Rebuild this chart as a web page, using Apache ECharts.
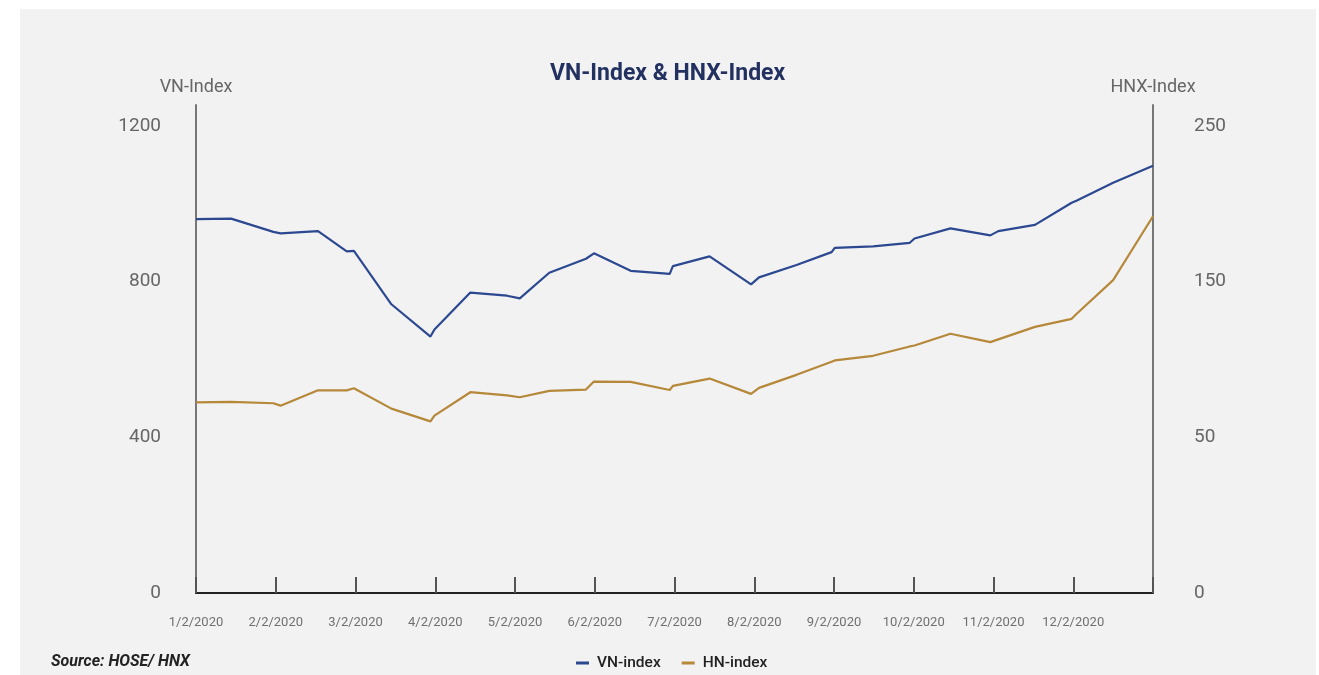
<!DOCTYPE html>
<html>
<head>
<meta charset="utf-8">
<script src="https://cdn.jsdelivr.net/npm/echarts@6/dist/echarts.min.js"></script>
<style>
  html, body { margin: 0; padding: 0; background: #ffffff; }
  #panel { position: absolute; left: 20px; top: 9px; width: 1296px; height: 666px; background: #f2f2f2; }
  #chart { position: absolute; left: 0; top: 0; width: 1319px; height: 675px; }
</style>
</head>
<body>
<div id="panel"></div>
<div id="chart"></div>
<script>
// Month positions (0 = 1/2/2020, 1 = 2/2/2020, ...)
const xPos = [0, 0.44, 0.97, 1.06, 1.53, 1.89, 1.98, 2.45, 2.94, 2.99, 3.44, 3.90, 4.06, 4.43, 4.89, 4.99, 5.45, 5.94, 5.98, 6.44, 6.96, 7.06, 7.53, 7.97, 8.01, 8.49, 8.95, 9.01, 9.46, 9.96, 10.06, 10.52, 10.98, 11.04, 11.50, 12.0];
const vnIndex = [961, 962, 928, 924, 930, 878, 879, 742, 659, 677, 772, 764, 757, 823, 859, 873, 828, 820, 840, 865, 793, 811, 843, 876, 887, 891, 900, 911, 937, 919, 930, 946, 1003, 1008, 1054, 1098];
const hnxIndex = [102.1, 102.3, 101.6, 100.3, 108.5, 108.5, 109.6, 98.7, 91.9, 95.0, 107.5, 105.8, 104.8, 108.2, 108.9, 113.2, 113.0, 108.7, 110.9, 114.8, 106.6, 109.8, 116.8, 123.8, 124.5, 127.0, 132.0, 132.5, 138.8, 134.3, 135.8, 142.5, 146.8, 149.4, 167.5, 201.7];
const xTickLabels = ['1/2/2020', '2/2/2020', '3/2/2020', '4/2/2020', '5/2/2020', '6/2/2020', '7/2/2020', '8/2/2020', '9/2/2020', '10/2/2020', '11/2/2020', '12/2/2020', ''];
const leftTickLabels = ['0', '400', '800', '1200'];
const rightTickLabels = ['0', '50', '150', '250'];
const seriesNames = ['VN-index', 'HN-index'];
const titleText = 'VN-Index & HNX-Index';
const sourceText = 'Source: HOSE/ HNX';

const leftMax = 1200, rightMax = 250;
const axisExtra = 487 / 466; // axis lines extend a bit above the top tick
const rightInterval = rightMax / 3;

const chart = echarts.init(document.getElementById('chart'), null, { renderer: 'canvas' });
const font = 'Roboto';
chart.setOption({
  backgroundColor: 'transparent',
  animation: false,
  title: [
    { text: titleText, left: 545, top: 58,
      textStyle: { fontFamily: font, fontSize: 23, fontWeight: 'bold', color: '#22315f' } },
    { text: sourceText, left: 46, top: 649,
      textStyle: { fontFamily: font, fontSize: 16, fontWeight: 'bold', fontStyle: 'italic', color: '#222222' } }
  ],
  legend: {
    left: 571, top: 650,
    itemWidth: 13, itemHeight: 3, itemGap: 21, icon: 'rect',
    textStyle: { fontFamily: font, fontSize: 15.5, fontWeight: 500, color: '#222222', padding: [0, 0, 0, 3] },
    data: seriesNames
  },
  grid: { left: 196, right: 166, top: 105, bottom: 82, containLabel: false },
  xAxis: {
    type: 'value', min: 0, max: 12, interval: 1,
    axisLine: { show: true, lineStyle: { color: '#222222', width: 2 } },
    axisTick: { show: true, inside: true, length: 16, lineStyle: { color: '#555555', width: 2 } },
    splitLine: { show: false },
    axisLabel: {
      margin: 23, fontFamily: font, fontSize: 13, color: '#707070',
      showMaxLabel: true,
      formatter: v => xTickLabels[Math.round(v)] || ''
    }
  },
  yAxis: [
    {
      type: 'value', min: 0, max: leftMax * axisExtra, interval: 400,
      name: 'VN-Index', nameLocation: 'end', nameGap: 9,
      nameTextStyle: { fontFamily: font, fontSize: 18, color: '#666666', align: 'center' },
      axisLine: { show: true, lineStyle: { color: '#777777', width: 2 } },
      axisTick: { show: false },
      splitLine: { show: false },
      axisLabel: {
        margin: 35, fontFamily: font, fontSize: 19, color: '#666666', showMaxLabel: false,
        formatter: v => { const i = Math.round(v / 400); return Math.abs(v - i * 400) < 1e-6 ? (leftTickLabels[i] || '') : ''; }
      }
    },
    {
      type: 'value', min: 0, max: rightMax * axisExtra, interval: rightInterval,
      name: 'HNX-Index', nameLocation: 'end', nameGap: 9,
      nameTextStyle: { fontFamily: font, fontSize: 18, color: '#666666', align: 'center' },
      axisLine: { show: true, lineStyle: { color: '#777777', width: 2 } },
      axisTick: { show: false },
      splitLine: { show: false },
      axisLabel: {
        margin: 41, fontFamily: font, fontSize: 19, color: '#666666', showMaxLabel: false,
        formatter: v => { const i = Math.round(v / rightInterval); return Math.abs(v - i * rightInterval) < 1e-3 ? (rightTickLabels[i] || '') : ''; }
      }
    }
  ],
  series: [
    {
      name: seriesNames[0], type: 'line', yAxisIndex: 0, symbol: 'none',
      lineStyle: { color: '#2b4890', width: 2.2 }, itemStyle: { color: '#2b4890' },
      data: xPos.map((x, i) => [x, vnIndex[i]])
    },
    {
      name: seriesNames[1], type: 'line', yAxisIndex: 1, symbol: 'none',
      lineStyle: { color: '#b5883a', width: 2.2 }, itemStyle: { color: '#b5883a' },
      data: xPos.map((x, i) => [x, hnxIndex[i]])
    }
  ]
});
</script>
</body>
</html>
